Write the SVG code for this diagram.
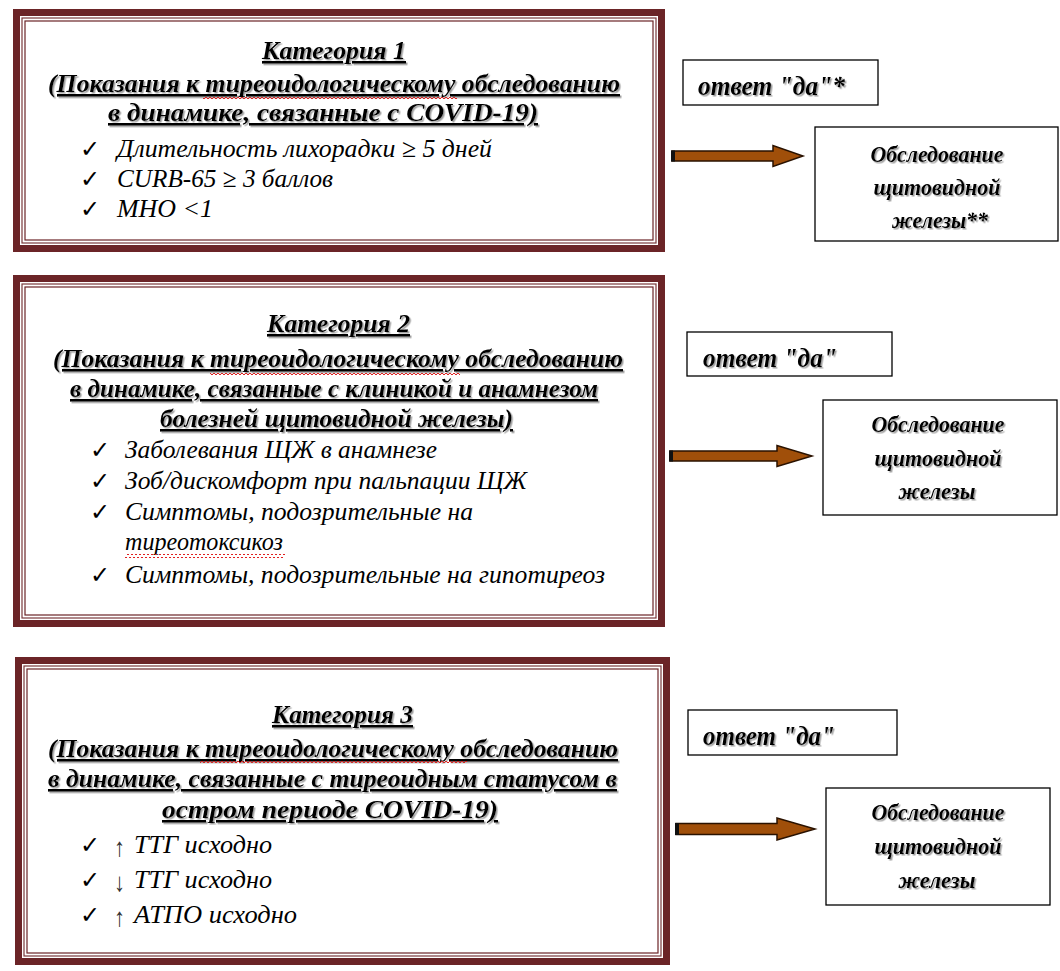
<svg xmlns="http://www.w3.org/2000/svg" width="1060" height="971" viewBox="0 0 1060 971">
<style>
.frame{fill:#fff;stroke:#6b2427;stroke-width:7}
.in1{fill:none;stroke:#7a3a3c;stroke-width:1.2}
.in2{fill:none;stroke:#6b2427;stroke-width:1.2}
.box{fill:#fff;stroke:#000;stroke-width:1.3}
.t{font-family:"Liberation Serif",serif;font-weight:bold;font-style:italic;font-size:26px;text-decoration:underline;fill:#000}
.i{font-family:"Liberation Serif",serif;font-style:italic;font-size:26px;fill:#000}
.ar{font-family:"Liberation Serif",serif;font-size:26px;fill:#333}
.ck{font-family:"DejaVu Sans",sans-serif;font-size:24px;fill:#000}
.a{font-family:"Liberation Serif",serif;font-weight:bold;font-style:italic;font-size:27px;fill:#000}
.o{font-family:"Liberation Serif",serif;font-weight:bold;font-style:italic;font-size:24px;fill:#000;text-anchor:middle}
.arrow{fill:#a04f0a;stroke:#2a1200;stroke-width:1.5}
</style>
<defs>
<filter id="sh" x="-5%" y="-20%" width="110%" height="150%">
<feDropShadow dx="1.5" dy="1.5" stdDeviation="0.6" flood-color="#888" flood-opacity="0.8"/>
</filter>
<pattern id="wave" width="4" height="4" patternUnits="userSpaceOnUse">
<path d="M0,3 L2,1 L4,3" fill="none" stroke="#e02020" stroke-width="1"/>
</pattern>
</defs>

<g id="cat1">
<rect class="frame" x="16.5" y="12.5" width="645" height="236"/>
<rect class="in1" x="22" y="18" width="634" height="225"/>
<rect class="in2" x="25" y="21" width="628" height="219"/>
<g filter="url(#sh)">
<text class="t" x="262" y="59" textLength="144" lengthAdjust="spacingAndGlyphs">Категория 1</text>
<text class="t" x="48" y="92" textLength="572" lengthAdjust="spacingAndGlyphs">(Показания к тиреоидологическому обследованию</text>
<text class="t" x="108" y="121" textLength="430" lengthAdjust="spacingAndGlyphs">в динамике, связанные с COVID-19)</text>
</g>
<rect x="203" y="96" width="254" height="4" fill="url(#wave)"/>
<text class="ck" x="80" y="157">✓</text>
<text class="i" x="117" y="157" textLength="375" lengthAdjust="spacingAndGlyphs">Длительность лихорадки ≥ 5 дней</text>
<text class="ck" x="80" y="187">✓</text>
<text class="i" x="117" y="187" textLength="216" lengthAdjust="spacingAndGlyphs">CURB-65 ≥ 3 баллов</text>
<text class="ck" x="80" y="217">✓</text>
<text class="i" x="117" y="217" textLength="96" lengthAdjust="spacingAndGlyphs">МНО &lt;1</text>
</g>

<g id="yes1">
<rect class="box" x="683" y="60" width="195" height="45"/>
<text class="a" x="698" y="95" textLength="147" lengthAdjust="spacingAndGlyphs" filter="url(#sh)">ответ "да"*</text>
</g>
<g id="exam1">
<rect class="box" x="815" y="127" width="243" height="114"/>
<g filter="url(#sh)">
<text class="o" x="937" y="162" textLength="133" lengthAdjust="spacingAndGlyphs">Обследование</text>
<text class="o" x="937" y="195" textLength="127" lengthAdjust="spacingAndGlyphs">щитовидной</text>
<text class="o" x="940" y="228" textLength="96" lengthAdjust="spacingAndGlyphs">железы**</text>
</g>
</g>

<g id="cat2">
<rect class="frame" x="16.5" y="278.5" width="645" height="345"/>
<rect class="in1" x="22" y="284" width="634" height="334"/>
<rect class="in2" x="25" y="287" width="628" height="328"/>
<g filter="url(#sh)">
<text class="t" x="267" y="332" textLength="143" lengthAdjust="spacingAndGlyphs">Категория 2</text>
<text class="t" x="53" y="367" textLength="570" lengthAdjust="spacingAndGlyphs">(Показания к тиреоидологическому обследованию</text>
<text class="t" x="70" y="397" textLength="528" lengthAdjust="spacingAndGlyphs">в динамике, связанные с клиникой и анамнезом</text>
<text class="t" x="160" y="427" textLength="353" lengthAdjust="spacingAndGlyphs">болезней щитовидной железы)</text>
</g>
<rect x="210" y="371" width="250" height="4" fill="url(#wave)"/>
<text class="ck" x="90" y="458">✓</text>
<text class="i" x="125" y="458" textLength="312" lengthAdjust="spacingAndGlyphs">Заболевания ЩЖ в анамнезе</text>
<text class="ck" x="90" y="489">✓</text>
<text class="i" x="125" y="489" textLength="402" lengthAdjust="spacingAndGlyphs">Зоб/дискомфорт при пальпации ЩЖ</text>
<text class="ck" x="90" y="520">✓</text>
<text class="i" x="125" y="520" textLength="348" lengthAdjust="spacingAndGlyphs">Симптомы, подозрительные на</text>
<text class="i" x="125" y="550" textLength="158" lengthAdjust="spacingAndGlyphs">тиреотоксикоз</text>
<rect x="125" y="554" width="160" height="4" fill="url(#wave)"/>
<text class="ck" x="90" y="583">✓</text>
<text class="i" x="125" y="583" textLength="480" lengthAdjust="spacingAndGlyphs">Симптомы, подозрительные на гипотиреоз</text>
</g>

<g id="yes2">
<rect class="box" x="687" y="332" width="205" height="44"/>
<text class="a" x="703" y="367" textLength="134" lengthAdjust="spacingAndGlyphs" filter="url(#sh)">ответ "да"</text>
</g>
<g id="exam2">
<rect class="box" x="823" y="400" width="234" height="115"/>
<g filter="url(#sh)">
<text class="o" x="938" y="432" textLength="133" lengthAdjust="spacingAndGlyphs">Обследование</text>
<text class="o" x="938" y="466" textLength="127" lengthAdjust="spacingAndGlyphs">щитовидной</text>
<text class="o" x="937" y="499" textLength="77" lengthAdjust="spacingAndGlyphs">железы</text>
</g>
</g>

<g id="cat3">
<rect class="frame" x="18.5" y="660.5" width="648" height="301"/>
<rect class="in1" x="24" y="666" width="637" height="290"/>
<rect class="in2" x="27" y="669" width="631" height="284"/>
<g filter="url(#sh)">
<text class="t" x="272" y="723" textLength="141" lengthAdjust="spacingAndGlyphs">Категория 3</text>
<text class="t" x="48" y="757" textLength="570" lengthAdjust="spacingAndGlyphs">(Показания к тиреоидологическому обследованию</text>
<text class="t" x="48" y="787" textLength="569" lengthAdjust="spacingAndGlyphs">в динамике, связанные с тиреоидным статусом в</text>
<text class="t" x="162" y="818" textLength="336" lengthAdjust="spacingAndGlyphs">остром периоде COVID-19)</text>
</g>
<rect x="200" y="761" width="267" height="4" fill="url(#wave)"/>
<text class="ck" x="80" y="853">✓</text>
<text class="ar" x="114" y="856" textLength="11" lengthAdjust="spacingAndGlyphs">↑</text>
<text class="i" x="134" y="853" textLength="138" lengthAdjust="spacingAndGlyphs">ТТГ исходно</text>
<text class="ck" x="80" y="888">✓</text>
<text class="ar" x="114" y="891" textLength="11" lengthAdjust="spacingAndGlyphs">↓</text>
<text class="i" x="134" y="888" textLength="138" lengthAdjust="spacingAndGlyphs">ТТГ исходно</text>
<text class="ck" x="80" y="923">✓</text>
<text class="ar" x="114" y="926" textLength="11" lengthAdjust="spacingAndGlyphs">↑</text>
<text class="i" x="134" y="923" textLength="163" lengthAdjust="spacingAndGlyphs">АТПО исходно</text>
</g>

<g id="yes3">
<rect class="box" x="688" y="710" width="209" height="45"/>
<text class="a" x="703" y="745" textLength="132" lengthAdjust="spacingAndGlyphs" filter="url(#sh)">ответ "да"</text>
</g>
<g id="exam3">
<rect class="box" x="826" y="788" width="224" height="117"/>
<g filter="url(#sh)">
<text class="o" x="938" y="820" textLength="133" lengthAdjust="spacingAndGlyphs">Обследование</text>
<text class="o" x="938" y="854" textLength="127" lengthAdjust="spacingAndGlyphs">щитовидной</text>
<text class="o" x="937" y="888" textLength="77" lengthAdjust="spacingAndGlyphs">железы</text>
</g>
</g>

<g id="connectors">
<polygon class="arrow" points="672,151 773,151 773,145.5 803,156 773,166.5 773,161 672,161"/>
<rect x="671" y="150.5" width="4" height="11" fill="#111"/>
<polygon class="arrow" points="670,451 777,451 777,445.5 812,456 777,466.5 777,461 670,461"/>
<rect x="669" y="450.5" width="4" height="11" fill="#111"/>
<polygon class="arrow" points="676,823.5 777,823.5 777,818 815,829 777,840 777,834.5 676,834.5"/>
<rect x="675" y="823" width="4" height="12" fill="#111"/>
</g>
</svg>
